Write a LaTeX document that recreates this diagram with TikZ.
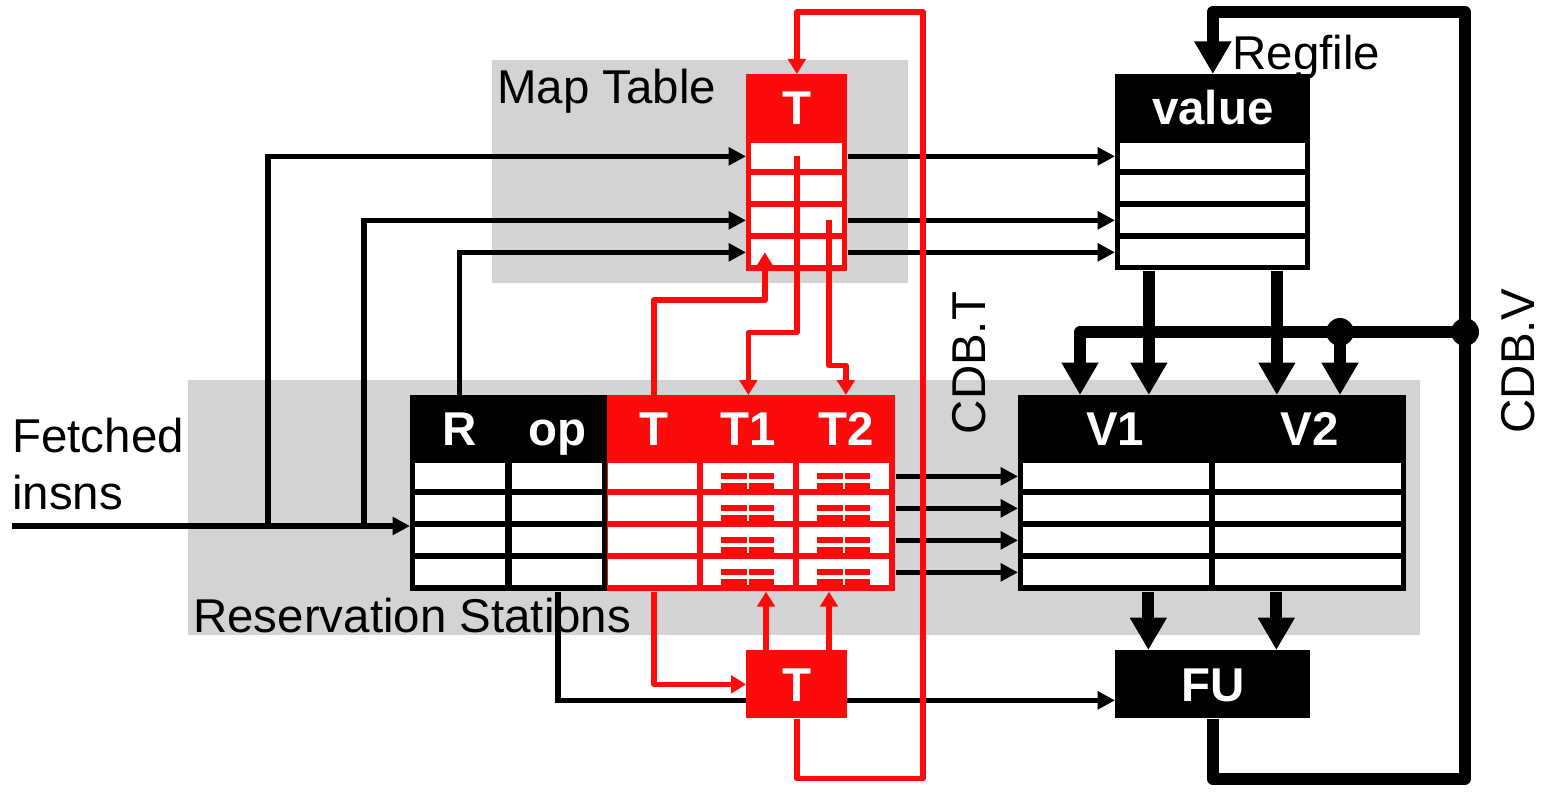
\documentclass[tikz,border=0pt]{standalone}
\usepackage{fontspec}
\setmainfont{Liberation Sans}
\usetikzlibrary{arrows.meta,positioning,calc}

\definecolor{cdbred}{RGB}{255,10,10}
\definecolor{bggray}{RGB}{211,211,211}

\pgfdeclarelayer{back}
\pgfsetlayers{back,main}

\tikzset{
  lbl/.style={font=\fontsize{27}{32.5}\selectfont, inner sep=0pt},
  hdr/.style={font=\fontsize{27}{32.5}\selectfont\bfseries, text=white,
    inner sep=0pt, anchor=north west, minimum height=13.4mm,
    text height=19.3pt, text depth=0pt},
  blkhdr/.style={hdr, fill=black},
  redhdr/.style={hdr, fill=cdbred},
  blkbody/.style={fill=black, inner sep=0pt, anchor=north west},
  redbody/.style={fill=cdbred, inner sep=0pt, anchor=north west},
  cell/.style={fill=white, inner sep=0pt, anchor=north west, minimum height=5.2mm},
  wire/.style={line width=1.1mm, -{Triangle[length=3.5mm, width=3.5mm]}},
  redwire/.style={draw=cdbred, line width=1.1mm, line join=round,
    -{Triangle[length=3mm, width=3.5mm]}},
  bus/.style={line width=2.4mm, line join=round,
    -{Triangle[length=6.5mm, width=7mm]}},
}

\begin{document}
\begin{tikzpicture}[x=0.2mm, y=-0.2mm]
  \useasboundingbox (0,0) rectangle (1548,792);

  % === Shaded regions ===
  \begin{pgfonlayer}{back}
    \fill[bggray] (492,60) rectangle (908,283);
    \fill[bggray] (188,380) rectangle (1420,635);
  \end{pgfonlayer}
  \node[lbl, anchor=base west] (mtlbl) at (497,103) {Map Table};
  \node[lbl, anchor=base west] (rslbl) at (193,632) {Reservation Stations};
  \node[lbl, align=left, anchor=south west] (fetchlbl) at (12,510) {Fetched\\insns};

  % === Map table ===
  \node[redhdr, minimum width=20.2mm] (mthdr) at (746,74) {T};
  \node[redbody, minimum width=20.2mm, minimum height=26.2mm] (mtbody) at (746,140) {};
  \foreach \i in {1,...,4}
    \node[cell, minimum width=18.2mm] (mt-\i) at (751,{111+32*\i}) {};

  % === Register file ===
  \node[blkhdr, minimum width=39mm] (rfhdr) at (1115,74) {value};
  \node[blkbody, minimum width=39mm, minimum height=26mm] (rfbody) at (1115,140) {};
  \foreach \i in {1,...,4}
    \node[cell, minimum width=37mm] (rf-\i) at (1120,{111+32*\i}) {};
  \node[lbl, anchor=base west] (rflbl) at (1232,70) {Regfile};

  % === Reservation stations ===
  \node[blkbody, minimum width=39.4mm, minimum height=25.8mm] (rsblk) at (410,462) {};
  \node[redbody, minimum width=57.6mm, minimum height=25.8mm] (rsred) at (607,462) {};
  \node[blkhdr, minimum width=19.6mm] (rsR) at (410,395) {R};
  \node[blkhdr, minimum width=19.8mm] (rsop) at (508,395) {op};
  \node[redhdr, minimum width=18.6mm] (rsT) at (607,395) {T};
  \node[redhdr, minimum width=19.2mm] (rsT1) at (700,395) {T1};
  \node[redhdr, minimum width=19.8mm] (rsT2) at (796,395) {T2};
  \foreach \col/\x/\w in {R/415/18mm, op/512/18mm, T/608/17.8mm, T1/703/18mm, T2/799/18mm}
    \foreach \i in {1,...,4}
      \node[cell, minimum width=\w] (rs\col-\i) at (\x,{431+32*\i}) {};
  % tag comparators
  \foreach \i in {1,...,4}
    \foreach \cx in {748,844} {
      \fill[cdbred] ({\cx-27},{441+32*\i}) rectangle ({\cx-1},{447+32*\i});
      \fill[cdbred] ({\cx+1},{441+32*\i}) rectangle ({\cx+26},{447+32*\i});
      \fill[cdbred] ({\cx-27},{451+32*\i}) rectangle ({\cx-1},{458+32*\i});
      \fill[cdbred] ({\cx+1},{451+32*\i}) rectangle ({\cx+26},{458+32*\i});
    }

  % === Values ===
  \node[blkbody, minimum width=77.6mm, minimum height=25.8mm] (vbody) at (1018,462) {};
  \node[blkhdr, minimum width=38.8mm] (v1h) at (1018,395) {V1};
  \node[blkhdr, minimum width=38.8mm] (v2h) at (1212,395) {V2};
  \foreach \col/\x in {1/1023, 2/1215}
    \foreach \i in {1,...,4}
      \node[cell, minimum width=37.2mm] (v\col-\i) at (\x,{431+32*\i}) {};

  % === FU and tag box ===
  \node[blkhdr, minimum width=39mm, minimum height=13.6mm] (fu) at (1115,650) {FU};
  \node[redhdr, minimum width=20.2mm, minimum height=13.6mm] (tbot) at (746,650) {T};

  \coordinate (fin) at (12,526);
  \coordinate (br1) at (268,526);
  \coordinate (br2) at (364,526);
  \coordinate (cdbT) at (923,12);
  \coordinate (cdbV) at (1465,12);
  \coordinate (busR) at (1465,332);
  \coordinate (busM) at (1340,332);
  \coordinate (tap1) at ([xshift=4mm]tbot.north west);
  \coordinate (tap2) at ([xshift=16.6mm]tbot.north west);

  % === Dispatch wires ===
  \draw[wire] (fin) -- (fin -| rsblk.west);
  \draw[wire] (br1) |- (mt-1.west -| mtbody.west);
  \draw[wire] (br2) |- (mt-3.west -| mtbody.west);
  \draw[wire] (rsR.north) |- (mt-4.west -| mtbody.west);
  \foreach \i in {1,3,4}
    \draw[wire] (mt-\i.east -| mtbody.east) -- (mt-\i.east -| rfbody.west);
  \foreach \i in {1,...,4}
    \draw[wire] (rsT2-\i.east -| rsred.east) -- (rsT2-\i.east -| vbody.west);
  \begin{pgfonlayer}{back}
    \draw[wire] (rsblk.south -| rsop.south) |- ([yshift=-3.2mm]fu.west);
  \end{pgfonlayer}

  % === Tag wires ===
  \draw[redwire] (mt-1.center) -- ++(0,176) -| (rsT1.north);
  \draw[redwire] ([xshift=6.4mm]mt-3.center) -- ++(0,145) -| (rsT2.north);
  \draw[redwire] (rsT.north) -- ++(0,-95) -| ([xshift=-6.4mm]mt-4.center);
  \draw[redwire] (rsred.south -| rsT.south) |- (tbot.west);
  \draw[redwire] (tap1) -- (tap1 |- rsred.south);
  \draw[redwire] (tap2) -- (tap2 |- rsred.south);
  % CDB.T
  \draw[redwire] (tbot.south) -- ++(0,60) -| (cdbT) -| (mthdr.north);
  \node[lbl, rotate=90, anchor=base] (cdbtlbl) at (985,363) {CDB.T};

  % === Value buses ===
  \coordinate (rfo1) at ([xshift=-12.8mm]rfbody.south);
  \coordinate (rfo2) at ([xshift=12.8mm]rfbody.south);
  \coordinate (vo1) at ([xshift=-12.8mm]vbody.south);
  \coordinate (vo2) at ([xshift=12.8mm]vbody.south);
  \coordinate (vin) at ([xshift=12.4mm]v1h.north west);
  \draw[bus] (rfo1) -- (rfo1 |- v1h.north);
  \draw[bus] (rfo2) -- (rfo2 |- v2h.north);
  \draw[bus] (vo1) -- (vo1 |- fu.north);
  \draw[bus] (vo2) -- (vo2 |- fu.north);
  % CDB.V
  \draw[bus] (fu.south) -- ++(0,60) -| (cdbV) -| (rfhdr.north);
  \draw[bus] (busR) -| (vin);
  \draw[bus] (busM) -- (busM |- v2h.north);
  \fill (busR) circle (2.8mm) (busM) circle (2.8mm);
  \node[lbl, rotate=90, anchor=base] (cdbvlbl) at (1534,361) {CDB.V};

\end{tikzpicture}
\end{document}
